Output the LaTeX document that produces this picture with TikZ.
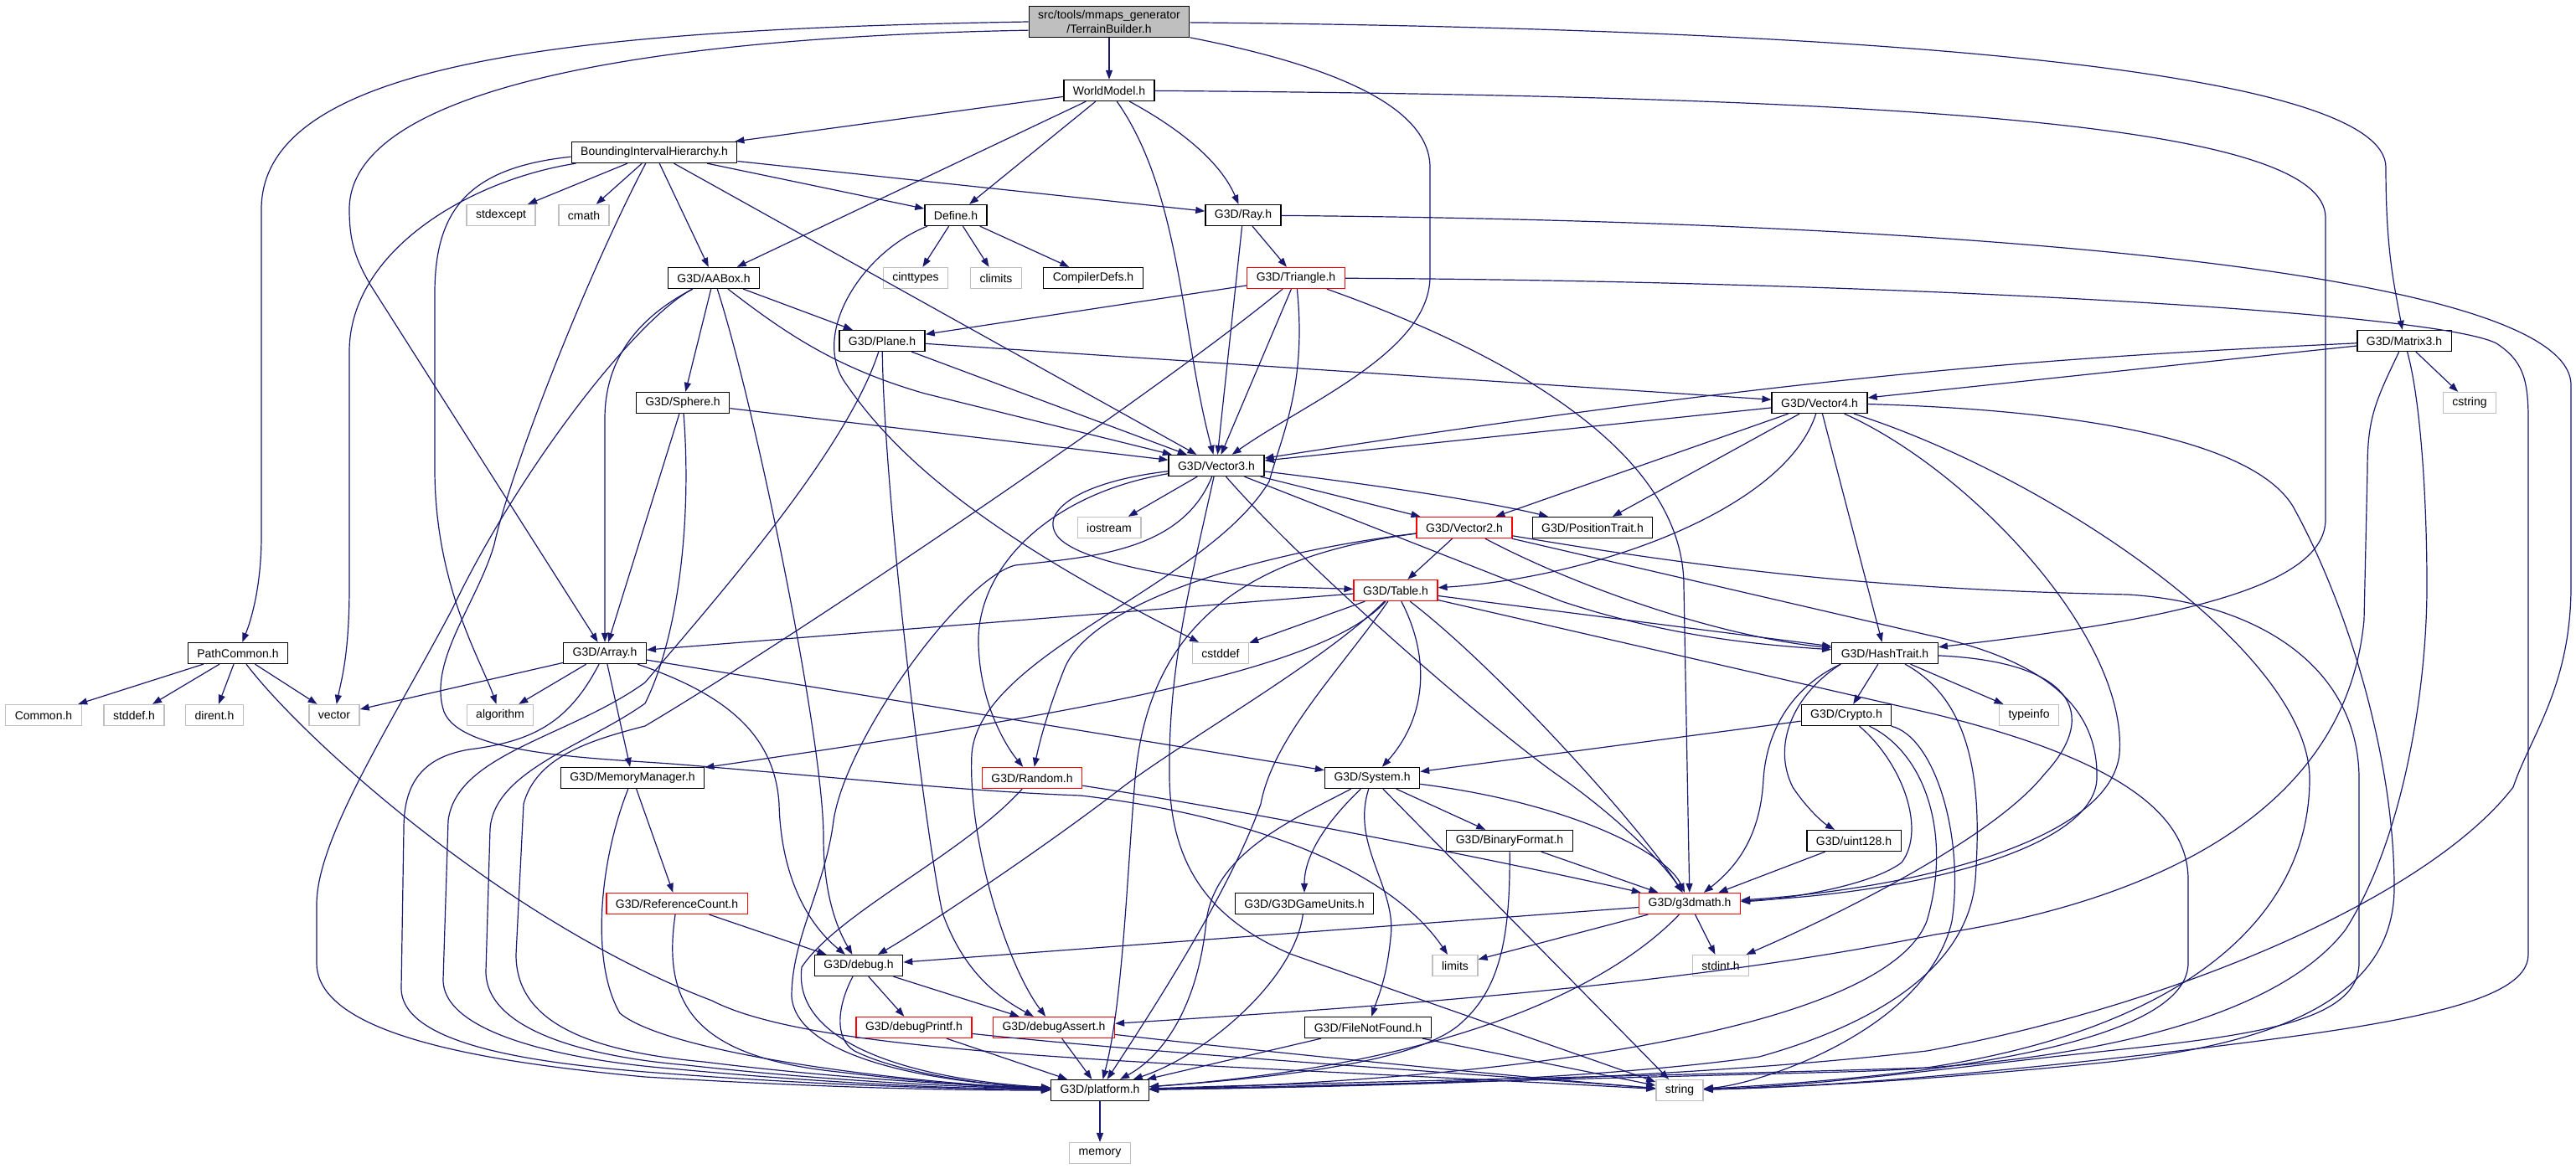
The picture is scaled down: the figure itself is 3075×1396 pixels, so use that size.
\documentclass[tikz,border=0pt]{standalone}
\usepackage{fontspec}
\setmainfont{Liberation Sans}
\usetikzlibrary{arrows.meta}
\definecolor{edgeblue}{HTML}{191970}
\definecolor{sysgray}{HTML}{BFBFBF}
\begin{document}
\begin{tikzpicture}[x=1pt,y=-1pt,
  incfile/.style={draw=black,fill=white,line width=1.3pt,font=\fontsize{14}{17}\selectfont,inner xsep=11pt,inner ysep=0pt,minimum height=25pt},
  sysfile/.style={incfile,draw=sysgray},
  cutfile/.style={incfile,draw=red},
  rootfile/.style={incfile,fill=sysgray,align=center,inner ysep=5pt},
  dep/.style={draw=edgeblue,line width=1.2pt,-{Triangle[length=11pt,width=8pt]}}]
\useasboundingbox (0,0) rectangle (3075,1396);
\fill[white] (0,0) rectangle (3075,1396);

\node[rootfile] (tb) at (1324,26) {src/tools/mmaps\_generator\\/TerrainBuilder.h};
\node[incfile] (wm) at (1324,108) {WorldModel.h};
\node[incfile] (bih) at (781,182) {BoundingIntervalHierarchy.h};
\node[sysfile] (stdexcept) at (598,257) {stdexcept};
\node[sysfile] (cmath) at (697,257) {cmath};
\node[incfile] (define) at (1141,257) {Define.h};
\node[incfile] (ray) at (1484,257) {G3D/Ray.h};
\node[incfile] (aabox) at (852,332) {G3D/AABox.h};
\node[sysfile] (cinttypes) at (1093,332) {cinttypes};
\node[sysfile] (climits) at (1189,332) {climits};
\node[incfile] (compilerdefs) at (1305,332) {CompilerDefs.h};
\node[cutfile] (triangle) at (1547,332) {G3D/Triangle.h};
\node[incfile] (plane) at (1053,407) {G3D/Plane.h};
\node[incfile] (matrix3) at (2870,407) {G3D/Matrix3.h};
\node[incfile] (sphere) at (815,481) {G3D/Sphere.h};
\node[sysfile] (cstring) at (2948,481) {cstring};
\node[incfile] (vector4) at (2172,481) {G3D/Vector4.h};
\node[incfile] (vector3) at (1452,556) {G3D/Vector3.h};
\node[sysfile] (iostream) at (1324,630) {iostream};
\node[cutfile] (vector2) at (1748,630) {G3D/Vector2.h};
\node[incfile] (positiontrait) at (1901,630) {G3D/PositionTrait.h};
\node[cutfile] (table) at (1666,705) {G3D/Table.h};
\node[incfile] (pathcommon) at (284,780) {PathCommon.h};
\node[incfile] (array) at (722,780) {G3D/Array.h};
\node[sysfile] (cstddef) at (1457,780) {cstddef};
\node[incfile] (hashtrait) at (2250,780) {G3D/HashTrait.h};
\node[sysfile] (common) at (52,854) {Common.h};
\node[sysfile] (stddef) at (160,854) {stddef.h};
\node[sysfile] (dirent) at (256,854) {dirent.h};
\node[sysfile] (vector) at (399,854) {vector};
\node[sysfile] (algorithm) at (597,854) {algorithm};
\node[incfile] (crypto) at (2204,854) {G3D/Crypto.h};
\node[sysfile] (typeinfo) at (2422,854) {typeinfo};
\node[incfile] (memorymanager) at (755,929) {G3D/MemoryManager.h};
\node[cutfile] (random) at (1232,929) {G3D/Random.h};
\node[incfile] (system) at (1638,929) {G3D/System.h};
\node[incfile] (binaryformat) at (1802,1004) {G3D/BinaryFormat.h};
\node[incfile] (uint128) at (2213,1004) {G3D/uint128.h};
\node[cutfile] (referencecount) at (808,1079) {G3D/ReferenceCount.h};
\node[incfile] (gameunits) at (1557,1079) {G3D/G3DGameUnits.h};
\node[cutfile] (g3dmath) at (2017,1079) {G3D/g3dmath.h};
\node[incfile] (debug) at (1025,1153) {G3D/debug.h};
\node[sysfile] (limits) at (1737,1153) {limits};
\node[sysfile] (stdint) at (2054,1153) {stdint.h};
\node[cutfile] (debugprintf) at (1091,1227) {G3D/debugPrintf.h};
\node[cutfile] (debugassert) at (1258,1227) {G3D/debugAssert.h};
\node[incfile] (filenotfound) at (1633,1227) {G3D/FileNotFound.h};
\node[incfile] (platform) at (1313,1302) {G3D/platform.h};
\node[sysfile] (string) at (2005,1302) {string};
\node[sysfile] (memory) at (1313,1377) {memory};

\path[dep] (tb) -- (wm);
\path[dep] (tb.west) .. controls (700,35) and (312,70) .. (312,250) -- (312,640) .. controls (312,700) and (300,740) .. (pathcommon);
\path[dep] (tb.186) .. controls (750,45) and (417,110) .. (417,250) .. controls (417,290) and (425,310) .. (442,340) -- (array);
\path[dep] (tb) .. controls (1600,80) and (1707,130) .. (1707,200) -- (1707,330) .. controls (1707,420) and (1560,480) .. (vector3);
\path[dep] (tb) .. controls (2300,35) and (2848,90) .. (2848,200) .. controls (2848,300) and (2858,340) .. (matrix3);

\path[dep] (wm) -- (bih);
\path[dep] (wm) -- (aabox);
\path[dep] (wm) -- (define);
\path[dep] (wm) .. controls (1410,230) and (1410,400) .. (vector3);
\path[dep] (wm) .. controls (1420,160) and (1460,200) .. (ray);
\path[dep] (wm) .. controls (2300,115) and (2776,150) .. (2776,260) -- (2776,620) .. controls (2776,700) and (2600,740) .. (hashtrait);

\path[dep] (bih) -- (stdexcept);
\path[dep] (bih) -- (cmath);
\path[dep] (bih.188) .. controls (560,215) and (417,300) .. (417,420) -- (417,700) .. controls (417,780) and (408,810) .. (vector);
\path[dep] (bih.183) .. controls (560,200) and (519,250) .. (519,350) -- (519,560) .. controls (519,700) and (575,790) .. (algorithm);
\path[dep] (bih) -- (define);
\path[dep] (bih) -- (ray);
\path[dep] (bih) -- (aabox);
\path[dep] (bih) -- (vector3);
\path[dep] (bih.232) .. controls (700,330) and (610,560) .. (590,650) .. controls (570,720) and (510,790) .. (530,850) .. controls (550,900) and (700,905) .. (800,912) .. controls (1000,928) and (1150,945) .. (1290,950) .. controls (1500,975) and (1660,1040) .. (limits);

\path[dep] (define) -- (cinttypes);
\path[dep] (define) -- (climits);
\path[dep] (define) -- (compilerdefs);
\path[dep] (define) .. controls (1030,300) and (965,400) .. (1011,460) .. controls (1080,560) and (1200,650) .. (cstddef);

\path[dep] (ray) -- (triangle);
\path[dep] (ray) -- (vector3);
\path[dep] (ray) .. controls (2400,265) and (3069,330) .. (3069,460) -- (3069,700) .. controls (3069,820) and (3020,880) .. (3000,940) .. controls (2900,1070) and (2600,1200) .. (2300,1255) .. controls (2000,1290) and (1600,1298) .. (platform);

\path[dep] (aabox) -- (plane);
\path[dep] (aabox) -- (sphere);
\path[dep] (aabox) .. controls (760,380) and (722,430) .. (722,500) -- (array);
\path[dep] (aabox) .. controls (900,480) and (983,880) .. (983,1000) .. controls (983,1070) and (1000,1110) .. (debug);
\path[dep] (aabox) .. controls (940,400) and (1000,440) .. (1104,470) -- (vector3);
\path[dep] (aabox) .. controls (760,380) and (620,560) .. (540,727) .. controls (470,860) and (378,1000) .. (378,1080) -- (378,1150) .. controls (378,1240) and (600,1270) .. (770,1286) .. controls (1000,1300) and (1150,1302) .. (platform);

\path[dep] (triangle) -- (plane);
\path[dep] (triangle) -- (vector3);
\path[dep] (triangle) .. controls (1850,440) and (2010,560) .. (2010,700) -- (g3dmath);
\path[dep] (triangle) .. controls (2200,335) and (2900,370) .. (2980,410) .. controls (3010,430) and (3018,450) .. (3018,500) -- (3018,1140) .. controls (3018,1200) and (2850,1225) .. (2600,1255) .. controls (2300,1290) and (2150,1298) .. (string);
\path[dep] (triangle) .. controls (1380,470) and (950,760) .. (770,867) .. controls (700,885) and (640,905) .. (625,960) -- (616,1140) .. controls (616,1220) and (700,1255) .. (840,1268) .. controls (1000,1288) and (1150,1296) .. (platform);
\path[dep] (triangle) .. controls (1560,460) and (1530,520) .. (1515,575) .. controls (1440,700) and (1170,780) .. (1160,900) .. controls (1155,1000) and (1200,1150) .. (debugassert);

\path[dep] (plane) -- (vector4);
\path[dep] (plane) -- (vector3);
\path[dep] (plane) .. controls (1010,540) and (850,720) .. (770,815) .. controls (680,880) and (545,900) .. (535,980) -- (529,1170) .. controls (529,1240) and (700,1268) .. (800,1276) .. controls (1000,1295) and (1150,1300) .. (platform);
\path[dep] (plane) .. controls (1056,600) and (1105,1000) .. (1125,1090) .. controls (1150,1160) and (1190,1190) .. (debugassert);

\path[dep] (sphere) -- (vector3);
\path[dep] (sphere) -- (array);
\path[dep] (sphere) .. controls (826,620) and (810,760) .. (770,840) .. controls (700,890) and (590,920) .. (585,990) -- (580,1160) .. controls (580,1230) and (700,1262) .. (820,1272) .. controls (1000,1292) and (1150,1298) .. (platform);

\path[dep] (matrix3) -- (vector4);
\path[dep] (matrix3) .. controls (2500,425) and (2200,440) .. (vector3);
\path[dep] (matrix3) -- (cstring);
\path[dep] (matrix3) .. controls (2835,480) and (2826,500) .. (2826,560) -- (2822,740) .. controls (2800,980) and (2550,1080) .. (2310,1116) .. controls (2000,1180) and (1600,1205) .. (debugassert);
\path[dep] (matrix3) .. controls (2890,480) and (2897,600) .. (2897,700) .. controls (2897,820) and (2870,1000) .. (2800,1110) .. controls (2700,1240) and (2400,1275) .. (2200,1280) .. controls (1900,1288) and (1600,1296) .. (platform);

\path[dep] (vector4) -- (vector3);
\path[dep] (vector4) -- (vector2);
\path[dep] (vector4) -- (positiontrait);
\path[dep] (vector4) .. controls (2130,610) and (1900,690) .. (table);
\path[dep] (vector4) -- (hashtrait);
\path[dep] (vector4) .. controls (2350,560) and (2540,760) .. (2530,900) .. controls (2520,1000) and (2300,1060) .. (g3dmath);
\path[dep] (vector4) .. controls (2450,570) and (2757,780) .. (2757,930) .. controls (2757,1100) and (2600,1230) .. (2300,1275) .. controls (2100,1282) and (1600,1292) .. (platform);
\path[dep] (vector4) .. controls (2500,490) and (2700,530) .. (2740,610) .. controls (2800,720) and (2858,900) .. (2858,1060) .. controls (2858,1200) and (2700,1250) .. (2500,1270) .. controls (2300,1290) and (2150,1298) .. (string);

\path[dep] (vector3) -- (iostream);
\path[dep] (vector3) -- (vector2);
\path[dep] (vector3) .. controls (1650,580) and (1780,600) .. (positiontrait);
\path[dep] (vector3) .. controls (1290,575) and (1240,610) .. (1262,640) .. controls (1285,670) and (1400,690) .. (1500,700) -- (table);
\path[dep] (vector3) .. controls (1250,590) and (1165,680) .. (1168,770) .. controls (1170,840) and (1200,890) .. (random);
\path[dep] (vector3) .. controls (1410,660) and (1300,665) .. (1212,675) .. controls (1150,690) and (1010,880) .. (995,980) .. controls (985,1060) and (945,1120) .. (945,1190) .. controls (950,1260) and (1100,1292) .. (platform);
\path[dep] (vector3) .. controls (1420,700) and (1394,800) .. (1396,930) .. controls (1398,1040) and (1450,1100) .. (1540,1139) -- (string);
\path[dep] (vector3) -- (1864,718) .. controls (1990,760) and (2100,770) .. (hashtrait);
\path[dep] (vector3) .. controls (1560,680) and (1780,870) .. (1860,926) .. controls (1930,975) and (1985,1030) .. (g3dmath);

\path[dep] (vector2) -- (table);
\path[dep] (vector2) .. controls (1500,660) and (1300,720) .. (1270,800) .. controls (1250,850) and (1240,890) .. (random);
\path[dep] (vector2) .. controls (1470,665) and (1370,760) .. (1355,930) .. controls (1345,1050) and (1340,1200) .. (platform);
\path[dep] (vector2) .. controls (1880,700) and (2050,760) .. (hashtrait);
\path[dep] (vector2) -- (2300,758) .. controls (2450,790) and (2505,850) .. (2503,930) .. controls (2500,1010) and (2300,1065) .. (g3dmath);
\path[dep] (vector2) .. controls (2100,690) and (2300,705) .. (2540,710) .. controls (2700,720) and (2816,800) .. (2816,930) -- (2816,1150) .. controls (2816,1230) and (2650,1240) .. (2450,1262) .. controls (2250,1285) and (2150,1297) .. (string);

\path[dep] (table) -- (array);
\path[dep] (table) -- (cstddef);
\path[dep] (table) .. controls (1580,800) and (1300,850) .. (memorymanager);
\path[dep] (table) .. controls (1580,790) and (1420,880) .. (1340,940) .. controls (1250,1010) and (1100,1110) .. (debug);
\path[dep] (table) .. controls (1600,800) and (1520,880) .. (1505,960) .. controls (1470,1060) and (1380,1200) .. (platform);
\path[dep] (table) .. controls (1710,790) and (1700,860) .. (system);
\path[dep] (table) .. controls (1790,800) and (1960,990) .. (g3dmath);
\path[dep] (table) -- (hashtrait);
\path[dep] (table) -- (2310,853) .. controls (2500,900) and (2612,960) .. (2612,1050) -- (2612,1150) .. controls (2612,1230) and (2400,1280) .. (string);

\path[dep] (hashtrait) -- (crypto);
\path[dep] (hashtrait.194) .. controls (2150,815) and (2110,860) .. (2105,930) .. controls (2102,990) and (2080,1030) .. (g3dmath);
\path[dep] (hashtrait.194) .. controls (2140,830) and (2115,890) .. (2140,940) .. controls (2160,970) and (2180,985) .. (uint128);
\path[dep] (hashtrait) -- (typeinfo);
\path[dep] (hashtrait) .. controls (2470,790) and (2510,850) .. (2440,925) .. controls (2380,1000) and (2200,1090) .. (stdint);
\path[dep] (hashtrait) .. controls (2360,840) and (2365,950) .. (2358,1050) .. controls (2350,1150) and (2250,1220) .. (2100,1262) .. controls (1900,1290) and (1600,1298) .. (platform);

\path[dep] (crypto) -- (system);
\path[dep] (crypto) .. controls (2270,910) and (2300,990) .. (2270,1030) .. controls (2230,1060) and (2120,1075) .. (g3dmath);
\path[dep] (crypto) .. controls (2300,900) and (2330,1000) .. (2300,1100) .. controls (2250,1230) and (1800,1290) .. (platform);
\path[dep] (crypto) .. controls (2310,880) and (2345,1000) .. (2330,1100) .. controls (2300,1230) and (2100,1295) .. (string);
\path[dep] (uint128) -- (g3dmath);

\path[dep] (system) .. controls (1585,980) and (1557,1020) .. (gameunits);
\path[dep] (system) .. controls (1612,1010) and (1668,1060) .. (1660,1120) .. controls (1655,1170) and (1645,1190) .. (filenotfound);
\path[dep] (system) -- (binaryformat);
\path[dep] (system) .. controls (1880,960) and (1990,1020) .. (g3dmath);
\path[dep] (system) -- (string);
\path[dep] (system) .. controls (1540,980) and (1450,1020) .. (1440,1100) .. controls (1430,1200) and (1390,1260) .. (platform);

\path[dep] (binaryformat) -- (g3dmath);
\path[dep] (binaryformat) .. controls (1803,1120) and (1790,1180) .. (1746,1220) .. controls (1700,1265) and (1550,1285) .. (platform);
\path[dep] (g3dmath) -- (debug);
\path[dep] (g3dmath) -- (limits);
\path[dep] (g3dmath) -- (stdint);
\path[dep] (g3dmath) .. controls (1930,1170) and (1750,1270) .. (platform);
\path[dep] (gameunits) .. controls (1545,1170) and (1440,1260) .. (platform);
\path[dep] (filenotfound) -- (platform);
\path[dep] (filenotfound) -- (string);

\path[dep] (random) .. controls (1500,970) and (1800,1030) .. (g3dmath);
\path[dep] (random) .. controls (1150,1020) and (1000,1090) .. (957,1155) .. controls (945,1250) and (1100,1290) .. (platform);

\path[dep] (array) -- (vector);
\path[dep] (array) -- (algorithm);
\path[dep] (array) -- (memorymanager);
\path[dep] (array) -- (system);
\path[dep] (array) .. controls (870,830) and (925,880) .. (930,960) .. controls (932,1040) and (960,1100) .. (debug);
\path[dep] (array) .. controls (680,860) and (640,885) .. (560,895) .. controls (500,905) and (482,940) .. (482,990) -- (479,1180) .. controls (479,1250) and (650,1270) .. (770,1280) .. controls (1000,1298) and (1150,1300) .. (platform);

\path[dep] (pathcommon) -- (common);
\path[dep] (pathcommon) -- (stddef);
\path[dep] (pathcommon) -- (dirent);
\path[dep] (pathcommon) -- (vector);
\path[dep] (pathcommon) .. controls (360,880) and (600,1100) .. (850,1195) .. controls (980,1262) and (1400,1268) .. (string);

\path[dep] (memorymanager) -- (referencecount);
\path[dep] (memorymanager) .. controls (715,1030) and (705,1150) .. (740,1210) .. controls (800,1260) and (1100,1295) .. (platform);
\path[dep] (referencecount) -- (debug);
\path[dep] (referencecount) .. controls (790,1200) and (830,1262) .. (1000,1280) .. controls (1100,1292) and (1200,1300) .. (platform);
\path[dep] (debug) -- (debugprintf);
\path[dep] (debug) -- (debugassert);
\path[dep] (debug) .. controls (1000,1200) and (995,1240) .. (1020,1255) .. controls (1080,1285) and (1200,1298) .. (platform);
\path[dep] (debugprintf) -- (platform);
\path[dep] (debugprintf) .. controls (1400,1260) and (1800,1285) .. (string);
\path[dep] (debugassert) -- (platform);
\path[dep] (debugassert) .. controls (1500,1255) and (1800,1285) .. (string);
\path[dep] (platform) -- (memory);
\end{tikzpicture}
\end{document}
